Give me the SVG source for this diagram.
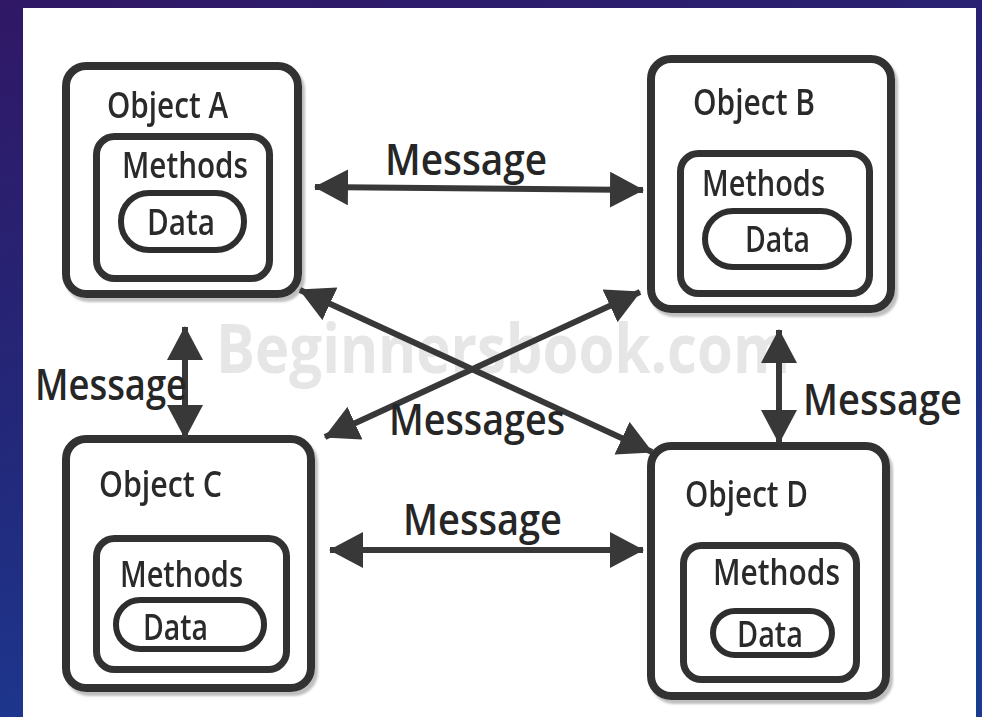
<svg xmlns="http://www.w3.org/2000/svg" width="982" height="717" viewBox="0 0 982 717">
  <defs>
    <linearGradient id="bg" x1="0" y1="0" x2="0.35" y2="1">
      <stop offset="0" stop-color="#301866"/>
      <stop offset="0.55" stop-color="#23287a"/>
      <stop offset="1" stop-color="#1b3a92"/>
    </linearGradient>
    <filter id="soft" x="-5%" y="-5%" width="115%" height="115%">
      <feDropShadow dx="3" dy="4" stdDeviation="0.8" flood-color="#b8b8b8" flood-opacity="0.9"/>
    </filter>
    <marker id="head" markerUnits="userSpaceOnUse" markerWidth="34" markerHeight="36" viewBox="0 0 34 36" refX="33" refY="18" orient="auto-start-reverse">
      <path d="M0,0 L34,18 L0,36 Z" fill="#383838"/>
    </marker>
    <style>
      .outer { fill: #ffffff; stroke: #333333; stroke-width: 8; }
      .inner { fill: #ffffff; stroke: #333333; stroke-width: 7; }
      .pill  { fill: #ffffff; stroke: #2e2e2e; stroke-width: 6; }
      .lbl   { font-family: "Open Sans", "Liberation Sans", sans-serif; font-size: 36px; font-weight: 600; fill: #2a2a2a; }
      .msg   { font-family: "Open Sans", "Liberation Sans", sans-serif; font-size: 43px; font-weight: 600; fill: #262626; }
      .wm    { font-family: "Open Sans", "Liberation Sans", sans-serif; font-size: 56px; font-weight: bold; fill: #e6e6e6; }
      .link  { fill: none; stroke: #383838; stroke-width: 6; marker-start: url(#head); marker-end: url(#head); }
    </style>
  </defs>

  <!-- backdrop and white sheet -->
  <rect x="0" y="0" width="982" height="717" fill="url(#bg)"/>
  <rect x="23" y="8" width="953" height="709" fill="#ffffff"/>

  <!-- watermark, stretched vertically -->
  <text class="wm" transform="translate(216 373) scale(1 1.2)" x="0" y="0" textLength="574" lengthAdjust="spacingAndGlyphs">Beginnersbook.com</text>

  <!-- objects -->
  <g id="object-a" filter="url(#soft)">
    <rect class="outer" x="66" y="66" width="232" height="228" rx="20"/>
    <text class="lbl" x="107" y="118" textLength="121" lengthAdjust="spacingAndGlyphs">Object A</text>
    <rect class="inner" x="96.5" y="136.5" width="173" height="142" rx="18"/>
    <text class="lbl" x="122" y="178" textLength="126" lengthAdjust="spacingAndGlyphs">Methods</text>
    <rect class="pill" x="121" y="193" width="123" height="57" rx="28"/>
    <text class="lbl" x="147" y="235" textLength="68" lengthAdjust="spacingAndGlyphs">Data</text>
  </g>

  <g id="object-b" filter="url(#soft)">
    <rect class="outer" x="651" y="59" width="240" height="250" rx="20"/>
    <text class="lbl" x="693" y="115" textLength="122" lengthAdjust="spacingAndGlyphs">Object B</text>
    <rect class="inner" x="680.5" y="153.5" width="189" height="140" rx="18"/>
    <text class="lbl" x="702" y="196" textLength="123" lengthAdjust="spacingAndGlyphs">Methods</text>
    <rect class="pill" x="705" y="211" width="144" height="56" rx="28"/>
    <text class="lbl" x="745" y="252" textLength="65" lengthAdjust="spacingAndGlyphs">Data</text>
  </g>

  <g id="object-c" filter="url(#soft)">
    <rect class="outer" x="66" y="439" width="245" height="249" rx="20"/>
    <text class="lbl" x="99" y="497" textLength="123" lengthAdjust="spacingAndGlyphs">Object C</text>
    <rect class="inner" x="96.5" y="538.5" width="190" height="131" rx="18"/>
    <text class="lbl" x="120" y="587" textLength="123" lengthAdjust="spacingAndGlyphs">Methods</text>
    <rect class="pill" x="116" y="600" width="148" height="49" rx="24"/>
    <text class="lbl" x="143" y="640" textLength="65" lengthAdjust="spacingAndGlyphs">Data</text>
  </g>

  <g id="object-d" filter="url(#soft)">
    <rect class="outer" x="651" y="446" width="235" height="250" rx="20"/>
    <text class="lbl" x="685" y="507" textLength="123" lengthAdjust="spacingAndGlyphs">Object D</text>
    <rect class="inner" x="683.5" y="545.5" width="173" height="134" rx="18"/>
    <text class="lbl" x="713" y="585" textLength="127" lengthAdjust="spacingAndGlyphs">Methods</text>
    <rect class="pill" x="713" y="611" width="119" height="44" rx="22"/>
    <text class="lbl" x="737" y="647" textLength="66" lengthAdjust="spacingAndGlyphs">Data</text>
  </g>

  <!-- message connectors -->
  <g id="connectors">
    <line class="link" x1="315" y1="187" x2="643" y2="190"/>
    <line class="link" x1="330" y1="550" x2="643" y2="550"/>
    <line class="link" x1="185" y1="327" x2="185" y2="438"/>
    <line class="link" x1="779" y1="330" x2="779" y2="443"/>
    <line class="link" x1="300" y1="290" x2="652" y2="452"/>
    <line class="link" x1="640" y1="292" x2="325" y2="437"/>
  </g>

  <!-- connector labels -->
  <g id="labels">
    <text class="msg" x="385" y="175" textLength="162" lengthAdjust="spacingAndGlyphs">Message</text>
    <text class="msg" x="403" y="535" textLength="159" lengthAdjust="spacingAndGlyphs">Message</text>
    <text class="msg" x="35" y="400" textLength="152" lengthAdjust="spacingAndGlyphs">Message</text>
    <text class="msg" x="803" y="415" textLength="159" lengthAdjust="spacingAndGlyphs">Message</text>
    <text class="msg" x="389" y="435" textLength="176" lengthAdjust="spacingAndGlyphs">Messages</text>
  </g>
</svg>
